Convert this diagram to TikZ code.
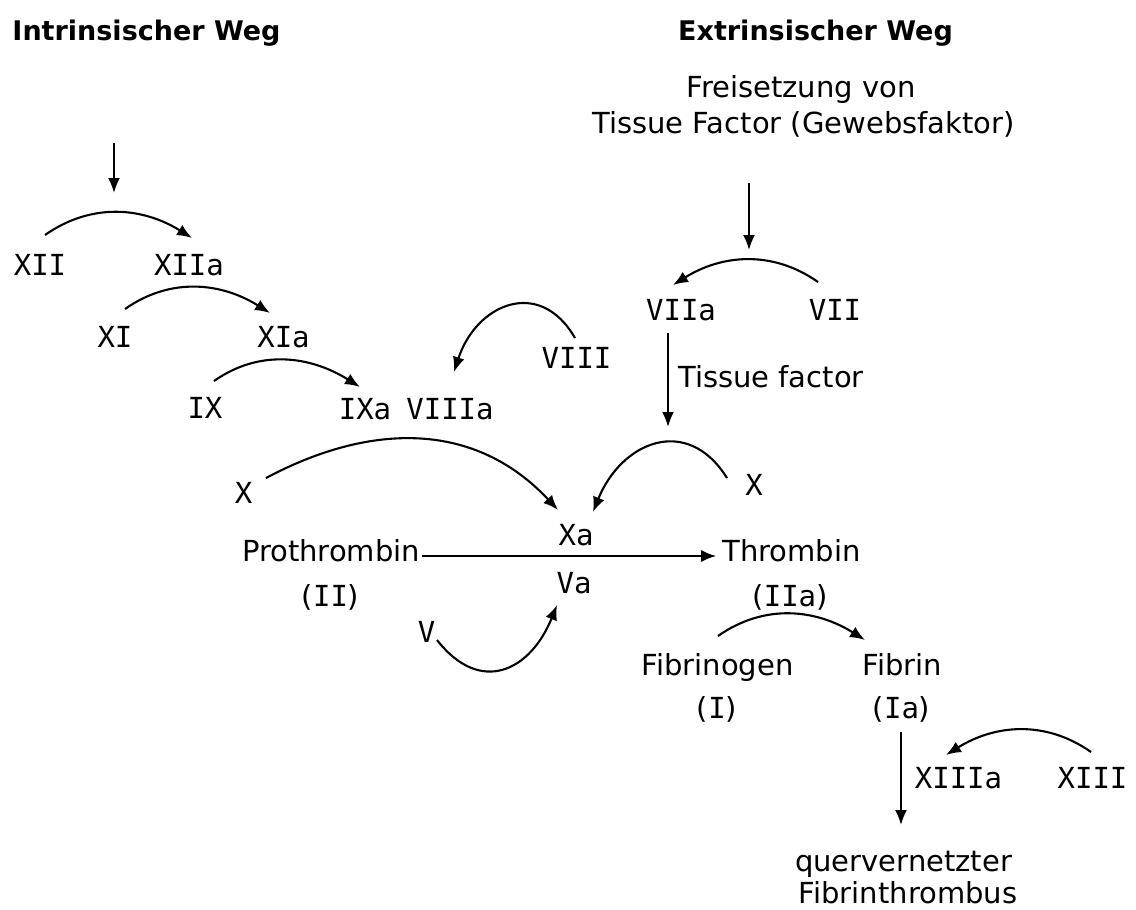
\documentclass[tikz,border=0pt]{standalone}
\usepackage{fontspec}
\setmainfont{DejaVu Sans}
\newfontfamily\monofont{DejaVu Sans Mono}
\newcommand{\rn}[1]{{\monofont #1}}
\usetikzlibrary{arrows.meta}
\begin{document}
\begin{tikzpicture}[x=1pt,y=1pt,
  lbl/.style={inner sep=0pt, anchor=base, font=\fontsize{29}{35}\selectfont},
  ttl/.style={inner sep=0pt, anchor=base, font=\fontsize{27}{32}\selectfont\bfseries},
  arr/.style={-{Latex[length=15pt,width=12pt]}, line width=1.9pt},
  carr/.style={-{Latex[length=15pt,width=12pt]}, line width=2.1pt}]
\useasboundingbox (0,0) rectangle (1136,-910);
% titles
\node[ttl] (tin) at (146.5,-40) {Intrinsischer Weg};
\node[ttl] (tex) at (815.5,-40) {Extrinsischer Weg};
\node[lbl] (frei) at (801,-97) {Freisetzung von};
\node[lbl] (tf) at (803.5,-133) {Tissue Factor (Gewebsfaktor)};
% intrinsic
\node[lbl] (XII) at (40,-275) {\rn{XII}};
\node[lbl] (XIIa) at (189,-275) {\rn{XIIa}};
\node[lbl] (XI) at (115,-347) {\rn{XI}};
\node[lbl] (XIa) at (283.5,-347) {\rn{XIa}};
\node[lbl] (IX) at (205,-418) {\rn{IX}};
\node[lbl] (IXa) at (365,-419) {\rn{IXa}};
\node[lbl] (VIIIa) at (450,-419) {\rn{VIIIa}};
\node[lbl] (VIII) at (576.5,-368) {\rn{VIII}};
% extrinsic
\node[lbl] (VIIa) at (681,-320) {\rn{VIIa}};
\node[lbl] (VII) at (835,-320) {\rn{VII}};
\node[lbl,anchor=base west] (tfl) at (678,-387) {Tissue factor};
% common
\node[lbl] (Xl) at (243.5,-503) {\rn{X}};
\node[lbl] (Xr) at (754,-495) {\rn{X}};
\node[lbl] (Xa) at (576,-545) {\rn{Xa}};
\node[lbl] (Va) at (574,-593) {\rn{Va}};
\node[lbl] (V) at (426.5,-642) {\rn{V}};
\node[lbl] (pro) at (331,-561) {Prothrombin};
\node[lbl] (II) at (330.5,-606) {(\rn{II})};
\node[lbl] (thr) at (791.5,-561) {Thrombin};
\node[lbl] (IIa) at (790,-606) {(\rn{IIa})};
\node[lbl] (fbg) at (717.5,-675) {Fibrinogen};
\node[lbl] (I) at (717,-718) {(\rn{I})};
\node[lbl] (fib) at (902.5,-675) {Fibrin};
\node[lbl] (Ia) at (901.5,-718) {(\rn{Ia})};
\node[lbl] (XIIIa) at (958.5,-788) {\rn{XIIIa}};
\node[lbl] (XIII) at (1092.5,-788) {\rn{XIII}};
\node[lbl] (qv) at (903.5,-871) {quervernetzter};
\node[lbl] (fth) at (908,-903) {Fibrinthrombus};
% free ends
\coordinate (itop) at (114,-143);
\coordinate (ibot) at (114,-193);
\coordinate (ebot) at (749,-250);
\coordinate (tfbot) at (668,-427);
% straight arrows
\draw[arr] (itop) -- (ibot);
\draw[arr] ([shift={(-54.5,-50)}]tf.base) -- (ebot);
\draw[arr] ([shift={(-13,-13)}]VIIa.base) -- (tfbot);
\draw[arr] ([shift={(2,5)}]pro.base east) -- ([shift={(-6,5)}]thr.base west);
\draw[arr] ([shift={(-0.5,-14)}]Ia.base) -- ([shift={(-2.5,46)}]qv.base);
% curved arrows
\draw[carr] ([shift={(5,40)}]XII.base) to[out=35,in=148] ([shift={(3,37)}]XIIa.base);
\draw[carr] ([shift={(10,38)}]XI.base) to[out=35,in=148] ([shift={(-13.5,34)}]XIa.base);
\draw[carr] ([shift={(9,37)}]IX.base) to[out=35,in=148] ([shift={(-5,32)}]IXa.base);
\draw[carr] ([shift={(-17,38)}]VII.base) to[out=145,in=32] ([shift={(-8,35)}]VIIa.base);
\draw[carr] ([shift={(-1.5,30)}]VIII.base) to[out=120,in=72,looseness=1.45] ([shift={(4,47)}]VIIIa.base);
\draw[carr] ([shift={(22.5,25)}]Xl.base) to[out=28,in=133,looseness=1.05] ([shift={(-18,35)}]Xa.base);
\draw[carr] ([shift={(-27,17)}]Xr.base) to[out=122,in=68,looseness=1.4] ([shift={(17,33)}]Xa.base);
\draw[carr] ([shift={(10.5,2)}]V.base) to[out=-52,in=-112,looseness=1.45] ([shift={(-17,-12)}]Va.base);
\draw[carr] ([shift={(0.5,39)}]fbg.base) to[out=35,in=148] ([shift={(-37.5,35)}]fib.base);
\draw[carr] ([shift={(-1.5,36)}]XIII.base) to[out=145,in=32] ([shift={(-12.5,33)}]XIIIa.base);
\end{tikzpicture}
\end{document}
